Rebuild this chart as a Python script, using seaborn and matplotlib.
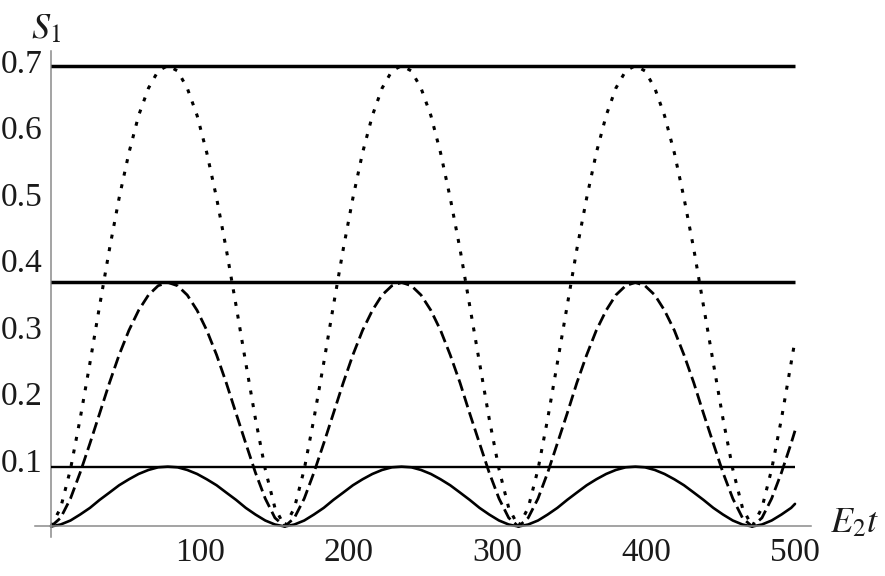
import matplotlib
matplotlib.use("Agg")
import matplotlib.pyplot as plt
import seaborn as sns
import pandas as pd
from matplotlib.ticker import MultipleLocator, FixedLocator

# ---- data ----
t = [0, 6.5, 13.1, 19.6, 26.2, 32.7, 39.3, 45.8, 52.4, 58.9, 65.5, 72.0,
     78.5, 85.1, 91.6, 98.2, 104.7, 111.3, 117.8, 124.4, 130.9, 137.4, 144.0, 150.5,
     157.1, 163.6, 170.2, 176.7, 183.3, 189.8, 196.4, 202.9, 209.4, 216.0, 222.5, 229.1,
     235.6, 242.2, 248.7, 255.3, 261.8, 268.3, 274.9, 281.4, 288.0, 294.5, 301.1, 307.6,
     314.2, 320.7, 327.3, 333.8, 340.3, 346.9, 353.4, 360.0, 366.5, 373.1, 379.6, 386.2,
     392.7, 399.2, 405.8, 412.3, 418.9, 425.4, 432.0, 438.5, 445.1, 451.6, 458.2, 464.7,
     471.2, 477.8, 484.3, 490.9, 497.4, 500.0]

s_dotted = [0, .028, .086, .162, .246, .332, .417, .494, .562, .618, .659, .685,
            .693, .685, .659, .618, .562, .494, .417, .332, .246, .162, .086, .028,
            0, .028, .086, .162, .246, .332, .417, .494, .562, .618, .659, .685,
            .693, .685, .659, .618, .562, .494, .417, .332, .246, .162, .086, .028,
            0, .028, .086, .162, .246, .332, .417, .494, .562, .618, .659, .685,
            .693, .685, .659, .618, .562, .494, .417, .332, .246, .162, .086, .028,
            0, .028, .086, .162, .246, .280]

s_dashed = [0, .013, .042, .081, .125, .170, .216, .258, .295, .325, .348, .362,
            .367, .362, .348, .325, .295, .258, .216, .170, .125, .081, .042, .013,
            0, .013, .042, .081, .125, .170, .216, .258, .295, .325, .348, .362,
            .367, .362, .348, .325, .295, .258, .216, .170, .125, .081, .042, .013,
            0, .013, .042, .081, .125, .170, .216, .258, .295, .325, .348, .362,
            .367, .362, .348, .325, .295, .258, .216, .170, .125, .081, .042, .013,
            0, .013, .042, .081, .125, .144]

s_solid = [0, .003, .009, .018, .028, .040, .051, .062, .071, .079, .085, .089,
           .090, .089, .085, .079, .071, .062, .051, .040, .028, .018, .009, .003,
           0, .003, .009, .018, .028, .040, .051, .062, .071, .079, .085, .089,
           .090, .089, .085, .079, .071, .062, .051, .040, .028, .018, .009, .003,
           0, .003, .009, .018, .028, .040, .051, .062, .071, .079, .085, .089,
           .090, .089, .085, .079, .071, .062, .051, .040, .028, .018, .009, .003,
           0, .003, .009, .018, .028, .034]

h_levels = [0.693, 0.367, 0.090]
h_widths = [2.5, 2.5, 1.7]

x_ticks = [100, 200, 300, 400, 500]
x_ticklabels = ["100", "200", "300", "400", "500"]
y_ticks = [0.1, 0.2, 0.3, 0.4, 0.5, 0.6, 0.7]
y_ticklabels = ["0.1", "0.2", "0.3", "0.4", "0.5", "0.6", "0.7"]

# ---- style ----
sns.set_style("white")
plt.rcParams["font.family"] = ["Liberation Serif", "DejaVu Serif"]
plt.rcParams["mathtext.fontset"] = "stix"

fig = plt.figure(figsize=(8.85, 5.76), dpi=100)
ax = fig.add_axes([0.0391, 0.0677, 0.8777, 0.8438])

df = pd.DataFrame({"t": t, "dotted": s_dotted, "dashed": s_dashed, "solid": s_solid})

sns.lineplot(data=df, x="t", y="dotted", ax=ax, color="black", lw=2.2,
             linestyle=(0, (1.3, 2.9)))
sns.lineplot(data=df, x="t", y="dashed", ax=ax, color="black", lw=2.0,
             linestyle=(0, (4.3, 1.9)))
sns.lineplot(data=df, x="t", y="solid", ax=ax, color="black", lw=1.9)

for lv, w in zip(h_levels, h_widths):
    ax.hlines(lv, t[0], t[-1], color="black", lw=w, zorder=3)

ax.set_xlim(-11, 511)
ax.set_ylim(-0.0158, 0.715)

for sp in ["top", "right"]:
    ax.spines[sp].set_visible(False)
ax.spines["left"].set_position(("data", 0))
ax.spines["bottom"].set_position(("data", 0))
for sp in ["left", "bottom"]:
    ax.spines[sp].set_color("#8a8a8a")
    ax.spines[sp].set_linewidth(1.1)

ax.xaxis.set_major_locator(FixedLocator(x_ticks))
ax.yaxis.set_major_locator(FixedLocator(y_ticks))
ax.set_xticklabels(x_ticklabels)
ax.set_yticklabels(y_ticklabels)
ax.xaxis.set_minor_locator(MultipleLocator(20))
ax.yaxis.set_minor_locator(MultipleLocator(0.02))
ax.tick_params(which="major", direction="in", length=7, width=1.0, color="#8a8a8a",
               labelsize=24, labelcolor="#1a1a1a")
ax.tick_params(which="minor", direction="in", length=4.5, width=1.0, color="#8a8a8a")
ax.tick_params(axis="y", which="major", pad=6)
ax.tick_params(axis="x", which="major", pad=8)
ax.set_xlabel("")
ax.set_ylabel("")

fig.text(46 / 885, 1 - 30 / 576, r"$S_1$", fontsize=26, ha="center", va="center",
         color="#1a1a1a")
fig.text(855 / 885, 1 - 524 / 576, r"$E_2 t$", fontsize=26, ha="center", va="center",
         color="#1a1a1a")

fig.savefig("out.png", dpi=100)
